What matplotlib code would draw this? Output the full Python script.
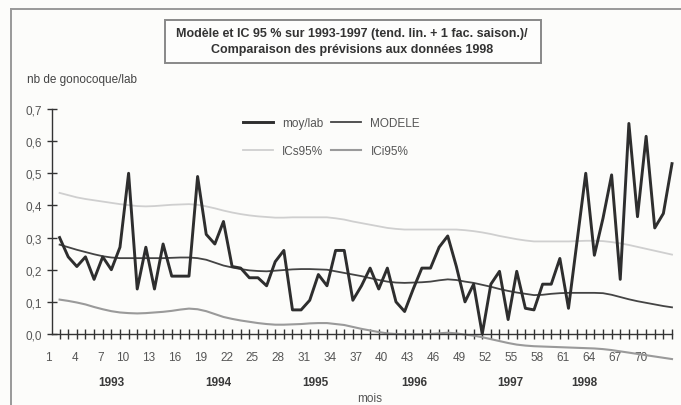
import matplotlib
matplotlib.use("Agg")
import matplotlib.pyplot as plt
from matplotlib.transforms import blended_transform_factory
import numpy as np

# ---------------- data ----------------
months = list(range(1, 73))
moy_lab = [0.30, 0.24, 0.21, 0.24, 0.17, 0.24, 0.20, 0.27, 0.50, 0.14,
           0.27, 0.14, 0.28, 0.18, 0.18, 0.18, 0.49, 0.31, 0.28, 0.35,
           0.21, 0.205, 0.175, 0.175, 0.15, 0.225, 0.26, 0.075, 0.075, 0.105,
           0.185, 0.15, 0.26, 0.26, 0.105, 0.15, 0.205, 0.14, 0.205, 0.10,
           0.07, 0.14, 0.205, 0.205, 0.27, 0.305, 0.21, 0.10, 0.155, 0.0,
           0.155, 0.195, 0.045, 0.195, 0.08, 0.075, 0.155, 0.155, 0.235, 0.08,
           0.29, 0.50, 0.245, 0.36, 0.495, 0.17, 0.655, 0.365, 0.615, 0.33,
           0.375, 0.53]
modele = [0.278, 0.270, 0.262, 0.255, 0.248, 0.242, 0.238, 0.236, 0.236, 0.236,
          0.236, 0.236, 0.236, 0.237, 0.238, 0.238, 0.236, 0.231, 0.222, 0.213,
          0.207, 0.202, 0.198, 0.196, 0.195, 0.197, 0.199, 0.201, 0.202, 0.202,
          0.201, 0.200, 0.195, 0.190, 0.185, 0.180, 0.174, 0.168, 0.163, 0.160,
          0.159, 0.160, 0.161, 0.163, 0.167, 0.170, 0.168, 0.163, 0.159, 0.153,
          0.147, 0.140, 0.134, 0.129, 0.125, 0.121, 0.122, 0.125, 0.127, 0.128,
          0.128, 0.128, 0.128, 0.127, 0.122, 0.115, 0.108, 0.102, 0.097, 0.092,
          0.087, 0.083]
ics95 = [0.439, 0.432, 0.425, 0.420, 0.416, 0.412, 0.408, 0.404, 0.401, 0.398,
         0.397, 0.398, 0.400, 0.402, 0.403, 0.404, 0.402, 0.397, 0.391, 0.384,
         0.378, 0.373, 0.369, 0.366, 0.364, 0.362, 0.362, 0.363, 0.363, 0.363,
         0.363, 0.363, 0.360, 0.356, 0.350, 0.345, 0.340, 0.335, 0.330, 0.327,
         0.325, 0.325, 0.325, 0.325, 0.325, 0.325, 0.325, 0.323, 0.320, 0.316,
         0.311, 0.305, 0.300, 0.295, 0.291, 0.288, 0.288, 0.288, 0.288, 0.288,
         0.289, 0.290, 0.290, 0.289, 0.286, 0.282, 0.277, 0.271, 0.265, 0.259,
         0.253, 0.247]
ici95 = [0.107, 0.103, 0.098, 0.092, 0.084, 0.077, 0.071, 0.067, 0.065, 0.064,
         0.065, 0.067, 0.069, 0.072, 0.076, 0.079, 0.077, 0.071, 0.062, 0.053,
         0.047, 0.042, 0.038, 0.034, 0.031, 0.029, 0.029, 0.030, 0.031, 0.033,
         0.034, 0.034, 0.031, 0.028, 0.022, 0.016, 0.011, 0.006, 0.002, 0.000,
         -0.001, -0.001, -0.001, 0.000, 0.002, 0.004, 0.002, -0.002, -0.005, -0.010,
         -0.016, -0.022, -0.028, -0.033, -0.036, -0.038, -0.039, -0.040, -0.041, -0.042,
         -0.043, -0.044, -0.045, -0.047, -0.050, -0.054, -0.058, -0.062, -0.066, -0.070,
         -0.074, -0.078]
xtick_labels = [str(k) for k in range(1, 71, 3)]
ytick_values = [0.0, 0.1, 0.2, 0.3, 0.4, 0.5, 0.6, 0.7]
ytick_labels = ["0,0", "0,1", "0,2", "0,3", "0,4", "0,5", "0,6", "0,7"]
years = ["1993", "1994", "1995", "1996", "1997", "1998"]
year_pos = [7.0, 19.4, 30.7, 42.1, 53.2, 61.8]
title = ("Modèle et IC 95 % sur 1993-1997 (tend. lin. + 1 fac. saison.)/\n"
         "Comparaison des prévisions aux données 1998")
ylabel = "nb de gonocoque/lab"
xlabel = "mois"

# ---------------- figure ----------------
plt.rcParams['font.family'] = ['Liberation Sans', 'DejaVu Sans']
W, H = 681, 406
bg = "#fcfcfa"
fig = plt.figure(figsize=(W / 100, H / 100), dpi=100, facecolor=bg)

def fx(px):
    return px / W

def fy(py):
    return 1 - py / H

ax_l, ax_r, ax_b, ax_t = 52, 672, 335, 110
ax = fig.add_axes([fx(ax_l), fy(ax_b), fx(ax_r - ax_l), (ax_b - ax_t) / H])
ax.set_facecolor("none")

ax.plot(months, ics95, color="#cfcfcf", lw=1.3, clip_on=False, label="ICs95%", zorder=2)
ax.plot(months, ici95, color="#9a9a9a", lw=1.5, clip_on=False, label="ICi95%", zorder=2)
ax.plot(months, modele, color="#444444", lw=1.3, clip_on=False, label="MODELE", zorder=3)
ax.plot(months, moy_lab, color="#2e2e2e", lw=2.1, clip_on=False, label="moy/lab", zorder=4)

ax.set_xlim(1, 72)
ax.set_ylim(0, 0.7)
for s in ["top", "right"]:
    ax.spines[s].set_visible(False)
ax.spines["left"].set_color("#333333")
ax.spines["bottom"].set_color("#333333")
ax.spines["left"].set_linewidth(1.0)
ax.spines["bottom"].set_linewidth(1.0)

ax.set_yticks(ytick_values)
ax.set_yticklabels(ytick_labels)
ax.tick_params(axis="y", direction="inout", length=7, width=1.0, color="#333333",
               labelsize=8.5, labelcolor="#555555", pad=4)

major_x = [k - 0.88 for k in range(1, 71, 3)]
ax.set_xticks(major_x)
ax.set_xticklabels(xtick_labels)
for lab in ax.get_xticklabels():
    lab.set_ha("right")
ax.set_xticks(months, minor=True)
ax.tick_params(axis="x", which="major", length=0, labelsize=8.5, labelcolor="#555555", pad=12)
ax.tick_params(axis="x", which="minor", direction="inout", length=7, width=1.0, color="#333333")

# year labels below axis
trans = blended_transform_factory(ax.transData, fig.transFigure)
for yr, xp in zip(years, year_pos):
    ax.text(xp, fy(383), yr, transform=trans, ha="center", va="center",
            fontsize=8.5, fontweight="bold", color="#3a3a3a")

fig.text(fx(370), fy(399), xlabel, ha="center", va="center", fontsize=8.5, color="#555555")
fig.text(fx(27), fy(80), ylabel, ha="left", va="center", fontsize=8.5, color="#444444")

# title box
box = plt.Rectangle((fx(165), fy(64)), fx(541 - 165), (64 - 21) / H, transform=fig.transFigure,
                    facecolor="#fdfdfc", edgecolor="#888888", lw=1.4)
fig.add_artist(box)
fig.text(fx(352), fy(42), title, ha="center", va="center", fontsize=9,
         fontweight="bold", color="#333333", linespacing=1.4)

# outer frame (left and top)
fig.add_artist(plt.Line2D([fx(11), fx(11)], [fy(10), 0], transform=fig.transFigure,
                          color="#999999", lw=1.4))
fig.add_artist(plt.Line2D([fx(11), 1], [fy(10), fy(10)], transform=fig.transFigure,
                          color="#999999", lw=1.4))

# legend (row 1: moy/lab, MODELE ; row 2: ICs95%, ICi95%)
handles, labels = ax.get_legend_handles_labels()
order = [3, 0, 2, 1]
leg = ax.legend([handles[i] for i in order], [labels[i] for i in order], ncol=2,
                loc="upper left", bbox_to_anchor=(fx(243), fy(118)),
                bbox_transform=fig.transFigure, frameon=False, fontsize=8.5,
                handlelength=2.5, handletextpad=0.8, columnspacing=0.7,
                labelspacing=1.35, borderpad=0, borderaxespad=0)
for t in leg.get_texts():
    t.set_color("#555555")

fig.savefig("out.png", dpi=100, facecolor=bg)
